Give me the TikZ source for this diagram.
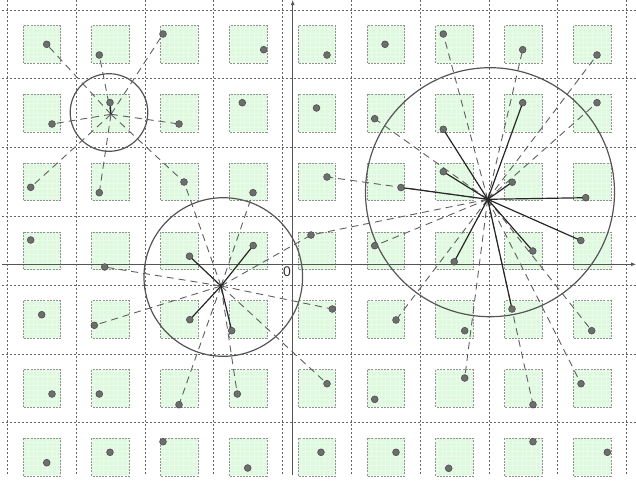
\documentclass[tikz,border=0pt]{standalone}
\usepackage{fontspec}
\setsansfont{Liberation Sans}
\usepackage{tikz}
\usetikzlibrary{arrows.meta}
\definecolor{gridgray}{RGB}{100,100,100}
\definecolor{boxgreen}{RGB}{222,249,222}
\definecolor{boxedge}{RGB}{145,145,145}
\definecolor{dotgray}{RGB}{110,110,110}
\definecolor{linegray}{RGB}{95,95,95}
\definecolor{circgray}{RGB}{85,85,85}

\begin{document}
\begin{tikzpicture}[x=1pt,y=-1pt,>=Stealth,
  gridline/.style={gridgray,line width=0.7pt,dash pattern=on 2pt off 2pt},
  cellbox/.style={draw=boxedge,line width=0.8pt,dash pattern=on 2pt off 1.2pt},
  axisline/.style={circgray,line width=0.9pt,-{Latex[length=5pt,width=4pt]}},
  probeline/.style={linegray,line width=0.9pt,dash pattern=on 7pt off 5pt},
  hitline/.style={black!85,line width=1.2pt},
  reachcircle/.style={circgray,line width=1.2pt},
  sampledot/.style={fill=dotgray,draw=black!70,line width=0.6pt}]
  \useasboundingbox (0,0) rectangle (636,483);
  % 网格
  \foreach \i in {0,...,9}
    \draw[gridline] ({7.3+68.8*\i},0)--({7.3+68.8*\i},475);
  \foreach \j in {0,...,6}
    \draw[gridline] (2,{10+68.8*\j})--(636,{10+68.8*\j});
  % 方格
  \foreach \i in {0,...,8}
    \foreach \j in {0,...,6} {
      \pgfmathsetmacro\bx{22.9+68.8*\i}
      \pgfmathsetmacro\by{25.6+68.8*\j}
      \fill[boxgreen] (\bx,\by) rectangle ({\bx+37.6},{\by+37.6});
      \draw[white,opacity=0.4,line width=0.3pt,step=4.7pt] (\bx,\by) grid ({\bx+37.6},{\by+37.6});
      \draw[cellbox] (\bx,\by) rectangle ({\bx+37.6},{\by+37.6});
    }
  % 坐标轴
  \coordinate (xs) at (2,264.3);
  \coordinate (xe) at (636,264.3);
  \coordinate (ys) at (292.7,475);
  \coordinate (ye) at (292.7,0);
  \draw[axisline] (xs)--(xe);
  \draw[axisline] (ys)--(ye);
  \node[font=\sffamily\fontsize{14}{14}\selectfont,text=black!80] (o) at (287,272) {0};
  % 采样点
  \foreach \n/\px/\py in {
    00/46.7/44.3, 01/99.3/55, 02/163/34, 03/263.7/49.7, 04/327/55, 05/385/44.3, 06/443.3/34, 07/522.7/49.7, 08/597/55,
    10/52/124, 11/110/102.5, 12/179/124, 13/242.3/102.7, 14/316.5/108, 15/374.7/118.7, 16/443.3/129.3, 17/522.7/102.7, 18/597/102.7,
    20/30.7/187.3, 21/99.3/192.7, 22/184/182, 23/253/192.7, 24/327/177, 25/401/187.5, 26/443.3/171.7, 27/512.2/182.2, 28/585.7/197.7,
    30/30.7/240, 31/104.7/267, 32/189.5/256.2, 33/253.2/245.5, 34/311/235, 35/374.7/245.7, 36/454.2/261.8, 37/532.8/251, 38/580.8/240.5,
    40/41.7/314.7, 41/94.3/325.3, 42/189.8/319.7, 43/231.7/330.7, 44/332.3/309, 45/396/320, 46/464.7/330.7, 47/512/309, 48/591.7/330.7,
    50/52/394, 51/99.3/394, 52/179/404.7, 53/237.3/394, 54/327/383.7, 55/374.7/399.3, 56/464.7/378, 57/533/404.7, 58/581/383.7,
    60/46.7/462.7, 61/110/452.3, 62/163/441.7, 63/247.7/468, 64/321/452.3, 65/396/452.3, 66/448.7/468.3, 67/533/441.7, 68/607.3/452.3}
    \coordinate (p\n) at (\px,\py);
  % 查询点与半径
  \coordinate (q1) at (111,114.3);
  \coordinate (q2) at (221,286);
  \coordinate (q3) at (487.7,199.3);
  \draw[reachcircle] (109,112.5) circle[radius=38.8pt];
  \draw[reachcircle] (223.3,277) circle[radius=79.3pt];
  \draw[reachcircle] (490,192.2) circle[radius=124.5pt];
  % 连线（虚线：圆外，实线：圆内）
  \foreach \t in {00,01,02,10,12,20,21,22} \draw[probeline] (q1)--(p\t);
  \draw[hitline] (q1)--(p11);
  \foreach \t in {22,23,31,34,41,44,52,53,54} \draw[probeline] (q2)--(p\t);
  \foreach \t in {32,33,42,43} \draw[hitline] (q2)--(p\t);
  \foreach \t in {06,07,08,15,18,24,34,35,45,48,56,57,58} \draw[probeline] (q3)--(p\t);
  \foreach \t in {16,17,25,26,27,28,36,37,38,47} \draw[hitline] (q3)--(p\t);
  % 点
  \foreach \j in {0,...,6}
    \foreach \i in {0,...,8}
      \draw[sampledot] (p\j\i) circle[radius=3.4pt];
\end{tikzpicture}
\end{document}
